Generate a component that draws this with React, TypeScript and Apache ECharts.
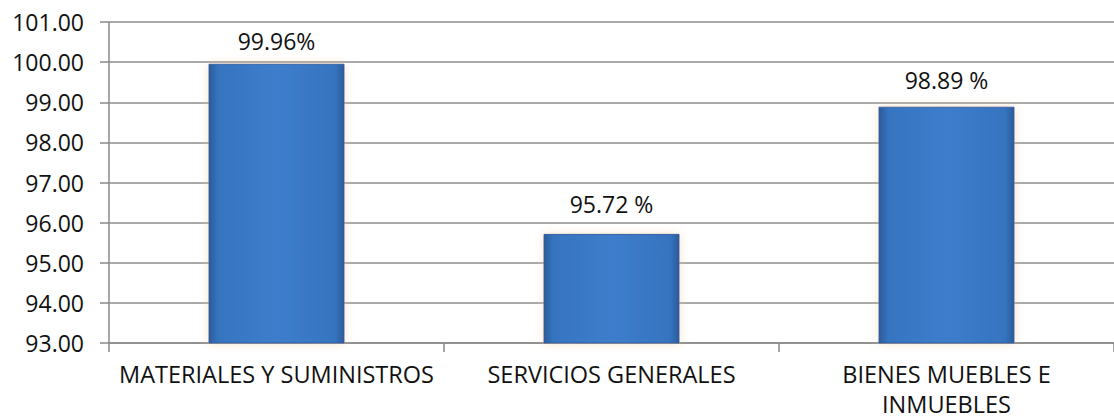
import React, { useEffect, useRef } from "react";
import * as echarts from "echarts";

const categories = ["MATERIALES Y SUMINISTROS", "SERVICIOS GENERALES", "BIENES MUEBLES E\nINMUEBLES"];
const values = [99.96, 95.72, 98.89];
const valueLabels = ["99.96%", "95.72 %", "98.89 %"];
const labelGaps = [11, 18, 15];
const yMin = 93;
const yMax = 101;
const yInterval = 1;

export default function App() {
  const ref = useRef<HTMLDivElement>(null);
  useEffect(() => {
    if (!ref.current) return;
    const chart = echarts.init(ref.current, null, { renderer: "svg" });
    const font = "'Open Sans', sans-serif";
    chart.setOption({
      animation: false,
      backgroundColor: "#ffffff",
      grid: { left: 109, top: 22, bottom: 76, right: -7, containLabel: false },
      xAxis: {
        type: "category",
        data: categories,
        axisLine: { show: true, lineStyle: { color: "#8a8a8a", width: 1.5 } },
        axisTick: { show: true, alignWithLabel: false, length: 9, lineStyle: { color: "#8a8a8a", width: 1.5 } },
        axisLabel: {
          color: "#111",
          fontFamily: font,
          fontSize: 23.5,
          margin: 16,
          lineHeight: 30,
          interval: 0,
        },
      },
      yAxis: {
        type: "value",
        min: yMin,
        max: yMax,
        interval: yInterval,
        axisLine: { show: true, lineStyle: { color: "#8a8a8a", width: 1.5 } },
        axisTick: { show: true, length: 9, lineStyle: { color: "#8a8a8a", width: 1.5 } },
        splitLine: { show: true, lineStyle: { color: "#8c8c8c", width: 1.5 } },
        axisLabel: {
          color: "#111",
          fontFamily: font,
          fontSize: 23,
          margin: 25,
          formatter: (v: number) => v.toFixed(2),
        },
      },
      series: [
        {
          type: "bar",
          data: values.map((v, i) => ({ value: v, label: { distance: labelGaps[i] } })),
          barWidth: 136,
          itemStyle: {
            color: new echarts.graphic.LinearGradient(0, 0, 1, 0, [
              { offset: 0, color: "#2c5c9a" },
              { offset: 0.07, color: "#3674c0" },
              { offset: 0.5, color: "#3d7dcb" },
              { offset: 0.93, color: "#3674c0" },
              { offset: 1, color: "#2c5c9a" },
            ]),
            borderColor: "#2e5f9f",
            borderWidth: 1,
            shadowColor: "rgba(240,200,150,0.5)",
            shadowBlur: 10,
          },
          label: {
            show: true,
            position: "top",
            color: "#111",
            fontFamily: font,
            fontSize: 23,
            formatter: (p: any) => valueLabels[p.dataIndex],
          },
        },
      ],
    });
    return () => chart.dispose();
  }, []);
  return <div ref={ref} style={{ width: 1114, height: 419, position: "fixed", left: 0, top: 0 }} />;
}
